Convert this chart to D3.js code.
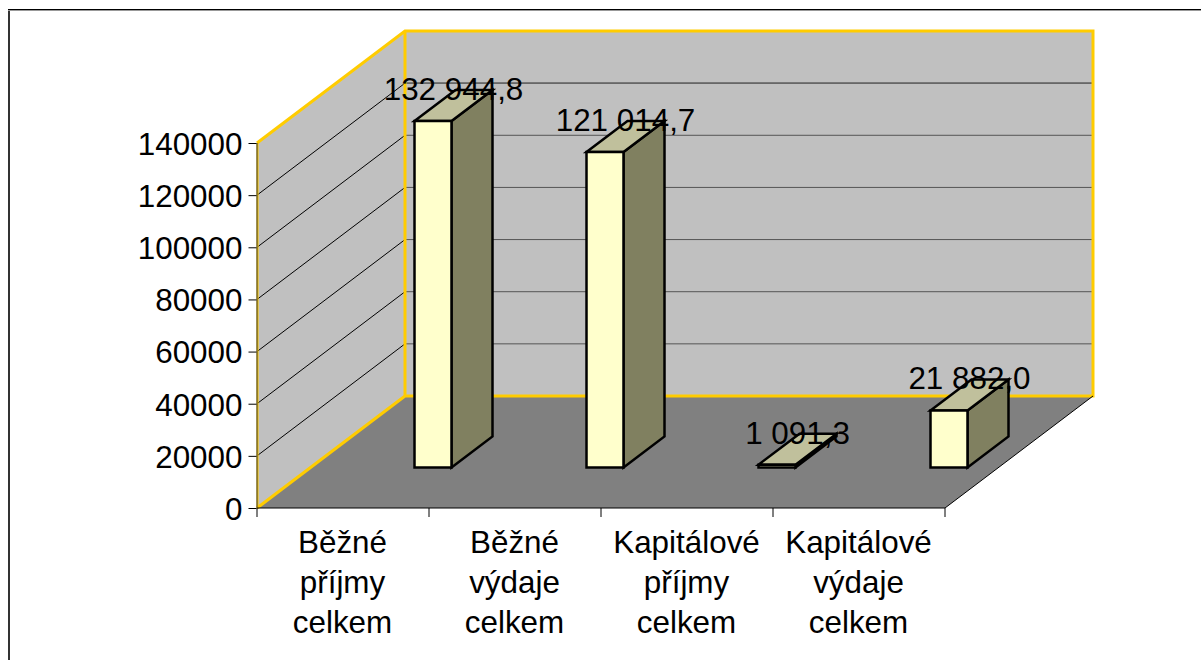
<!DOCTYPE html>
<html>
<head>
<meta charset="utf-8">
<script src="https://cdn.jsdelivr.net/npm/d3@7"></script>
<style>
  html, body { margin: 0; padding: 0; background: #fff; overflow: hidden; }
  svg { display: block; }
  text { font-family: "Liberation Sans", Arial, sans-serif; font-size: 31.4px; fill: #000; }
</style>
</head>
<body>
<svg id="plot"></svg>
<script>
const width = 1201;
const height = 660;

const categories = [
  ['Běžné', 'příjmy', 'celkem'],
  ['Běžné', 'výdaje', 'celkem'],
  ['Kapitálové', 'příjmy', 'celkem'],
  ['Kapitálové', 'výdaje', 'celkem']
];
const values = [132944.8, 121014.7, 1091.3, 21882.0];
const valueLabels = ['132 944,8', '121 014,7', '1 091,3', '21 882,0'];
const yTicks = [0, 20000, 40000, 60000, 80000, 100000, 120000, 140000];

const wallColor = '#c0c0c0';
const floorColor = '#808080';
const edgeColor = '#ffcc00';

// oblique 3d: the wall sits back by this much, the bars part of the way
const depth = [148, -112];
const barDepth = [41, -31];
const barFloor = [157.5, -40.5]; // front left of a bar, from the left tick of its band
const barWidth = 37;

const svg = d3.select('#plot').attr('width', width).attr('height', height);

const sx = d3.scaleBand().domain(d3.range(categories.length)).range([257, 945]);
const sy = d3.scaleLinear().domain([0, 140000]).range([508, 143]);

const x0 = sx.range()[0], x1 = sx.range()[1];
const y0 = sy(0), y1 = sy(140000);
const pts = a => a.map(p => p.join(',')).join(' ');

// frame, only left and top are there
svg.append('path').attr('d', `M9,660V10`).attr('fill', 'none').attr('stroke', '#333').attr('stroke-width', 2);
svg.append('path').attr('d', `M8,10.5H${width}`).attr('fill', 'none').attr('stroke', '#999').attr('stroke-width', 1);
svg.append('path').attr('d', `M8,9.5H${width}`).attr('fill', 'none').attr('stroke', '#000').attr('stroke-width', 1);

// side wall, back wall, floor
svg.append('polygon')
  .attr('points', pts([[x0, y0], [x0, y1], [x0 + depth[0], y1 + depth[1]], [x0 + depth[0], y0 + depth[1]]]))
  .attr('fill', wallColor);
svg.append('polygon')
  .attr('points', pts([[x0 + depth[0], y1 + depth[1]], [x1 + depth[0], y1 + depth[1]], [x1 + depth[0], y0 + depth[1]], [x0 + depth[0], y0 + depth[1]]]))
  .attr('fill', wallColor);
svg.append('polygon')
  .attr('points', pts([[x0, y0], [x0 + depth[0], y0 + depth[1]], [x1 + depth[0], y0 + depth[1]], [x1, y0]]))
  .attr('fill', floorColor);

// gridlines
const grid = svg.append('g');
yTicks.slice(1, -1).forEach(t => {
  grid.append('line')
    .attr('x1', x0).attr('y1', sy(t))
    .attr('x2', x0 + depth[0]).attr('y2', sy(t) + depth[1])
    .attr('stroke', '#000').attr('stroke-width', 1);
  grid.append('line')
    .attr('x1', x0 + depth[0]).attr('y1', sy(t) + depth[1])
    .attr('x2', x1 + depth[0]).attr('y2', sy(t) + depth[1])
    .attr('stroke', '#555').attr('stroke-width', 1);
});
grid.append('line')
  .attr('x1', x0 + depth[0]).attr('y1', y1 + depth[1] + 52)
  .attr('x2', x1 + depth[0]).attr('y2', y1 + depth[1] + 52)
  .attr('stroke', '#555').attr('stroke-width', 1);

// yellow wall edges
svg.append('path')
  .attr('d', `M${x0},${y1}L${x0 + depth[0]},${y1 + depth[1]}H${x1 + depth[0]}V${y0 + depth[1]}H${x0 + depth[0]}V${y1 + depth[1]}M${x0},${y0}L${x0 + depth[0]},${y0 + depth[1]}`)
  .attr('fill', 'none').attr('stroke', edgeColor).attr('stroke-width', 3).attr('stroke-linejoin', 'miter');
svg.append('line')
  .attr('x1', x0 + 0.5).attr('x2', x0 + 0.5).attr('y1', y1).attr('y2', y0)
  .attr('stroke', edgeColor).attr('stroke-width', 2);

// floor right and front edge
svg.append('path')
  .attr('d', `M${x0},${y0}H${x1}L${x1 + depth[0]},${y0 + depth[1]}`)
  .attr('fill', 'none').attr('stroke', '#000').attr('stroke-width', 1);

// axes
const axisY = d3.axisLeft(sy).tickValues(yTicks).tickSize(8).tickPadding(6).tickFormat(d => d);
const gy = svg.append('g').attr('transform', `translate(${x0 - 0.5},0)`).call(axisY);
gy.select('.domain').attr('d', `M0.5,${y1}V${y0}`).attr('stroke', '#333');
gy.selectAll('text').attr('dy', '0.36em');

const axisTicks = svg.append('g');
d3.range(categories.length + 1).forEach(i => {
  const tx = i < categories.length ? sx(i) : x1;
  axisTicks.append('line')
    .attr('x1', tx).attr('x2', tx).attr('y1', y0).attr('y2', y0 + 9)
    .attr('stroke', '#000').attr('stroke-width', 1);
});

// bars
const bars = svg.selectAll('.bar').data(values).enter().append('g').attr('class', 'bar');
bars.each(function(d, i) {
  const g = d3.select(this);
  const bx = sx(i) + barFloor[0];
  const by = y0 + barFloor[1];
  const top = by - (y0 - sy(d));
  const side = [[bx + barWidth, by], [bx + barWidth + barDepth[0], by + barDepth[1]], [bx + barWidth + barDepth[0], top + barDepth[1]], [bx + barWidth, top]];
  const cap = [[bx, top], [bx + barDepth[0], top + barDepth[1]], [bx + barWidth + barDepth[0], top + barDepth[1]], [bx + barWidth, top]];
  const front = [[bx, by], [bx, top], [bx + barWidth, top], [bx + barWidth, by]];
  [[side, '#808060'], [cap, '#c0c09c'], [front, '#ffffcc']].forEach(f => {
    g.append('polygon').attr('points', pts(f[0]))
      .attr('fill', f[1]).attr('stroke', '#000').attr('stroke-width', 2.5).attr('stroke-linejoin', 'miter');
  });
});

// value labels
svg.selectAll('.value').data(values).enter().append('text')
  .attr('class', 'value')
  .attr('text-anchor', 'middle')
  .attr('x', (d, i) => sx(i) + barFloor[0] + barWidth / 2 + barDepth[0] / 2)
  .attr('y', d => y0 + barFloor[1] - (y0 - sy(d)) + barDepth[1] + 10)
  .text((d, i) => valueLabels[i]);

// category labels
svg.selectAll('.cat').data(categories).enter().append('text')
  .attr('class', 'cat')
  .attr('text-anchor', 'middle')
  .each(function(d, i) {
    d3.select(this).selectAll('tspan').data(d).enter().append('tspan')
      .attr('x', sx(i) + sx.bandwidth() / 2 - 0.5)
      .attr('y', (t, j) => 553 + j * 40)
      .text(t => t);
  });
</script>
</body>
</html>
